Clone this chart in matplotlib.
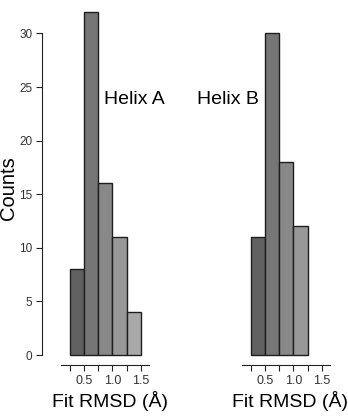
import matplotlib
matplotlib.use("Agg")
import matplotlib.pyplot as plt
import numpy as np

plt.rcParams["font.family"] = ["Liberation Sans", "DejaVu Sans"]

# histogram data
bin_edges = [0.25, 0.5, 0.75, 1.0, 1.25, 1.5]
counts_a = [8, 32, 16, 11, 4]
counts_b = [11, 30, 18, 12]
bar_grays = ["#606060", "#767676", "#888888", "#989898", "#a9a9a9"]
y_ticks = [0, 5, 10, 15, 20, 25, 30]
x_major = [0.5, 1.0, 1.5]
x_minor = [0.25, 0.75, 1.25]

W, H = 348, 416
fig = plt.figure(figsize=(W / 100, H / 100), dpi=100)

PX_PER_X = 56.5
PX_PER_Y = 10.72


def make_axes(x0_px, y0_px, left_px, right_px, top_px, bottom_px):
    # x0_px: pixel of bin edge 0.25, y0_px: pixel of count 0
    ax = fig.add_axes([left_px / W, 1 - bottom_px / H,
                       (right_px - left_px) / W, (bottom_px - top_px) / H])
    ax.set_xlim(0.25 + (left_px - x0_px) / PX_PER_X, 0.25 + (right_px - x0_px) / PX_PER_X)
    ax.set_ylim((y0_px - bottom_px) / PX_PER_Y, (y0_px - top_px) / PX_PER_Y)
    ax.patch.set_visible(False)
    for s in ["top", "right"]:
        ax.spines[s].set_visible(False)
    ax.spines["bottom"].set_bounds(0.25 - 9 / PX_PER_X, 1.5 + 8 / PX_PER_X)
    ax.spines["bottom"].set_color("#222222")
    ax.set_xticks(x_major)
    ax.set_xticklabels(["0.5", "1.0", "1.5"], fontsize=9, color="#333333")
    ax.set_xticks(x_minor, minor=True)
    ax.tick_params(axis="x", which="both", length=4, width=0.8, color="#222222", pad=3)
    return ax


def draw_bars(ax, counts):
    lefts = np.array(bin_edges[:len(counts)])
    ax.bar(lefts, counts, width=0.25, align="edge", color=bar_grays[:len(counts)],
           edgecolor="#1e1e1e", linewidth=1.0)


ax1 = make_axes(70, 355, 42, 175, 3, 365)
draw_bars(ax1, counts_a)
ax1.spines["left"].set_bounds(0, 30)
ax1.spines["left"].set_color("#222222")
ax1.set_yticks(y_ticks)
ax1.set_yticklabels([str(t) for t in y_ticks], fontsize=8.5, color="#333333")
ax1.tick_params(axis="y", length=4, width=0.8, color="#222222", pad=3)

ax2 = make_axes(251, 355, 236, 345, 3, 365)
draw_bars(ax2, counts_b)
ax2.spines["left"].set_visible(False)
ax2.set_yticks([])

fig.text(104 / W, 1 - 100 / H, "Helix A", fontsize=14, ha="left", va="center")
fig.text(197 / W, 1 - 100 / H, "Helix B", fontsize=14, ha="left", va="center")
fig.text(110 / W, 1 - 401 / H, "Fit RMSD (Å)", fontsize=14, ha="center", va="center")
fig.text(290 / W, 1 - 401 / H, "Fit RMSD (Å)", fontsize=14, ha="center", va="center")
fig.text(9 / W, 1 - 188 / H, "Counts", fontsize=14.5, rotation=90, ha="center", va="center")

fig.savefig("out.png", dpi=100)
